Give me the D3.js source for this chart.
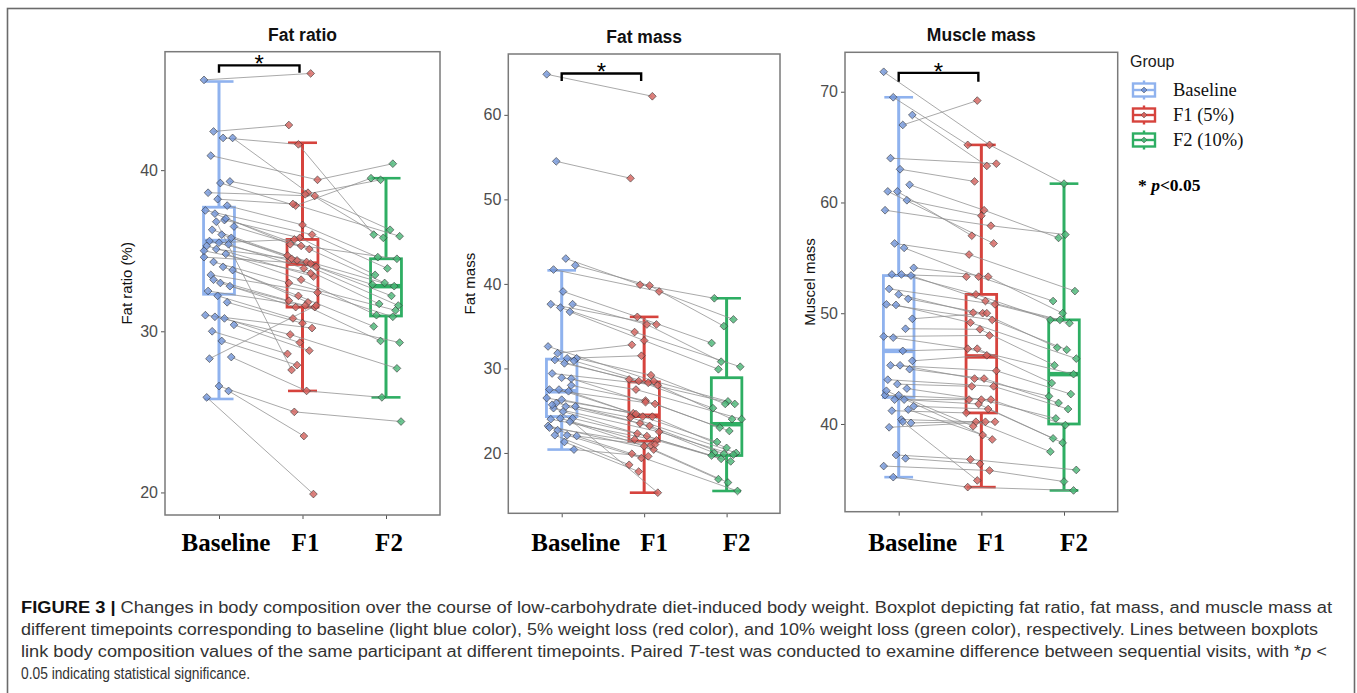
<!DOCTYPE html>
<html>
<head>
<meta charset="utf-8">
<script src="https://cdn.jsdelivr.net/npm/d3@7"></script>
<style>
  body { margin: 0; background: #fff; }
  svg { display: block; }
</style>
</head>
<body>
<div id="chart"></div>
<script>
// Groups (x categories) and legend labels
const groups = ["Baseline", "F1", "F2"];
const legendLabels = ["Baseline", "F1 (5%)", "F2 (10%)"];

// Fat ratio (%) per participant, null = visit not reached
const fatRatioBaseline = [45.6, 42.4, 42.0, 42.0, 40.9, 39.2, 39.3, 38.6, 38.2, 37.8, 37.5, 37.3, 36.9, 36.5, 36.3, 36.0, 35.8, 35.6, 35.5, 35.4, 35.3, 35.1, 34.8, 34.6, 34.3, 34.0, 33.8, 33.5, 33.0, 32.8, 32.5, 32.2, 31.8, 31.0, 30.9, 30.8, 30.4, 30.0, 29.4, 28.4, 28.3, 26.6, 26.3, 25.9, 36.8, 37.0, 35.0, 33.2];
const fatRatioF1 = [46.0, 42.8, 41.6, 38.6, 39.4, 37.8, 38.5, 38.4, 37.9, 36.6, 36.0, 35.4, 35.8, 35.1, 34.7, 34.4, 34.3, 34.0, 35.7, 33.9, 33.4, 34.5, 33.2, 34.2, 33.0, 32.2, 31.8, 32.4, 31.5, 31.6, 31.5, 30.8, 30.5, 30.2, 29.8, 29.3, 28.8, 28.6, 27.9, 26.3, 31.6, 25.0, 23.5, 19.9, 27.6, 35.3, 33.6, 31.9];
const fatRatioF2 = [null, null, 36.0, 35.8, 40.4, 39.5, 39.4, 36.3, 35.9, 34.6, 33.9, 34.5, 33.5, 33.0, 32.8, 32.9, null, 32.2, null, 31.7, null, 31.6, 31.0, null, 31.3, 30.3, null, 30.9, null, 29.4, null, 29.3, null, null, 27.7, null, null, null, null, 25.9, null, 24.4, null, null, null, null, null, null];
// Box statistics: [lower whisker, Q1, median, Q3, upper whisker]
const fatRatioBox = [[25.8, 32.3, 35.6, 37.7, 45.5], [26.3, 31.5, 34.2, 35.7, 41.7], [25.9, 30.95, 32.8, 34.5, 39.5]];
const fatRatioTicks = [20, 30, 40];

// Fat mass per participant
const fatMassBaseline = [64.8, 54.5, 43.0, 42.2, 41.7, 39.1, 37.6, 37.6, 37.2, 36.7, 32.6, 31.8, 31.2, 31.2, 31.0, 30.6, 30.9, 29.4, 28.9, 28.0, 27.5, 27.5, 27.3, 26.5, 25.9, 25.5, 25.5, 25.3, 24.9, 24.1, 24.0, 24.1, 23.7, 23.2, 22.7, 22.1, 22.0, 22.1, 21.3, 20.4, 25.7, 26.3, 28.8, 23.0];
const fatMassF1 = [62.2, 52.5, 39.9, 39.8, 39.1, 36.1, 35.2, 35.2, 34.3, 33.3, 28.5, 32.8, 31.5, 29.2, 28.7, 28.5, 28.3, 28.0, 27.5, 26.2, 25.8, 24.7, 24.3, 24.3, 24.2, 23.5, 23.2, 22.5, 22.3, 22.0, 21.5, 21.6, 20.8, 20.4, 19.9, 19.4, 20.9, 18.6, 17.8, 19.6, 15.3, 24.6, 26.0, 21.0];
const fatMassF2 = [null, null, 38.3, 35.0, 35.8, 33.0, 30.8, null, 30.2, 29.9, 26.1, null, null, 25.8, 25.8, 25.3, null, 24.0, 24.0, 23.0, 22.6, null, 21.3, 20.6, 20.0, 20.0, 19.9, 19.8, 19.7, 19.3, 19.0, null, 16.9, 16.5, 15.5, null, null, null, null, null, null, null, null, null];
const fatMassBox = [[20.4, 24.3, 27.3, 31.1, 41.6], [15.3, 21.4, 24.4, 28.4, 36.1], [15.5, 19.7, 23.4, 28.9, 38.3]];
const fatMassTicks = [20, 30, 40, 50, 60];

// Muscle mass per participant
const muscleBaseline = [71.8, 69.5, 67.0, 67.9, 64.0, 63.0, 61.6, 61.0, 61.0, 60.2, 59.3, 56.3, 55.9, 54.1, 53.5, 53.5, 53.4, 52.2, 51.7, 51.3, 50.8, 50.75, 48.6, 47.9, 47.8, 46.6, 45.7, 45.3, 45.3, 44.95, 44.0, 43.6, 43.2, 42.6, 42.2, 42.2, 41.6, 41.2, 40.4, 40.1, 39.7, 42.6, 41.3, 43.0, 37.2, 36.9, 36.2, 35.2, 40.2, 49.5];
const muscleF1 = [65.2, 65.2, 69.2, 63.3, 63.5, 61.9, 59.3, 56.3, 57.0, 58.8, 57.9, 55.3, 53.3, 53.3, 53.3, 51.7, 51.1, 50.8, 50.05, 50.0, 49.4, 49.15, 48.55, 48.0, 46.8, 46.8, 46.2, 44.8, 44.1, 44.1, 43.4, 43.4, 42.2, 42.2, 42.2, 41.8, 41.35, 41.0, 40.2, 40.2, 40.2, 39.8, 39.0, 38.6, 36.8, 36.4, 35.8, 34.3, 34.9, 50.0];
const muscleF2 = [61.7, null, null, null, null, null, 56.8, null, null, null, 57.1, 52.0, 51.1, 50.0, null, 49.4, 49.4, 49.1, null, 46.9, 46.7, 45.9, 45.3, null, 44.5, 43.7, null, 42.7, 42.5, 41.9, 41.35, null, 40.5, 39.9, null, 38.7, 38.3, null, 37.5, null, null, null, null, null, 35.85, null, 34.8, 34.0, null, null];
const muscleBox = [[35.2, 42.4, 46.6, 53.4, 69.5], [34.3, 41.0, 46.1, 51.7, 65.2], [34.0, 40.0, 44.5, 49.4, 61.7]];
const muscleTicks = [40, 50, 60, 70];

// Colours
const boxColors = ["#8fb2ee", "#d6433d", "#2eae63"];
const pointColors = ["#7295d8", "#d4625c", "#48b676"];

const W = 1357, H = 693;
const svg = d3.select("#chart").append("svg")
    .attr("width", W)
    .attr("height", H);

// outer figure frame
svg.append("rect")
    .attr("x", 7.5).attr("y", 8.5)
    .attr("width", 1347).attr("height", 700)
    .attr("fill", "none")
    .attr("stroke", "#6b6b6b")
    .attr("stroke-width", 1.6);

const panels = [
    { title: "Fat ratio", ylab: "Fat ratio (%)", ylabX: 127, left: 165, right: 440, top: 51.7, bottom: 515,
      pad: 54, domain: [18.6, 47.35], ticks: fatRatioTicks, box: fatRatioBox,
      series: [fatRatioBaseline, fatRatioF1, fatRatioF2], sig: [46.5, 46.05], labelShift: 3 },
    { title: "Fat mass", ylab: "Fat mass", ylabX: 470, left: 508.3, right: 780, top: 54, bottom: 513.3,
      pad: 53.4, domain: [12.86, 67.2], ticks: fatMassTicks, box: fatMassBox,
      series: [fatMassBaseline, fatMassF1, fatMassF2], sig: [64.9, 64.0], labelShift: 10 },
    { title: "Muscle mass", ylab: "Muscel mass", ylabX: 810, left: 845, right: 1117.7, top: 52.3, bottom: 511.7,
      pad: 53.7, domain: [32.08, 73.56], ticks: muscleTicks, box: muscleBox,
      series: [muscleBaseline, muscleF1, muscleF2], sig: [71.7, 70.9], labelShift: 10 }
];

// small fixed horizontal spread for points (pixel offsets, not data)
function jitter(i, g) {
    return ((((i * 53 + g * 17) % 23) / 22) - 0.5) * 30;
}

const diamond = d3.symbol().type(d3.symbolSquare).size(30);

panels.forEach((p) => {
    const g = svg.append("g");

    const x = d3.scalePoint()
        .domain(groups)
        .range([p.left + p.pad, p.right - p.pad]);
    const y = d3.scaleLinear()
        .domain(p.domain)
        .range([p.bottom, p.top]);
    const step = x.step();
    const boxW = step * 0.37;

    // title
    g.append("text")
        .attr("x", (p.left + p.right) / 2)
        .attr("y", p.top - 11)
        .attr("text-anchor", "middle")
        .style("font-family", "Liberation Sans, Arial, sans-serif")
        .style("font-weight", "bold")
        .style("font-size", "17.5px")
        .attr("fill", "#111")
        .text(p.title);

    // y axis
    const yAxis = g.append("g")
        .attr("transform", "translate(" + p.left + ",0)")
        .call(d3.axisLeft(y).tickValues(p.ticks).tickSize(4).tickPadding(3));
    yAxis.select(".domain").remove();
    yAxis.selectAll(".tick line").attr("stroke", "#555");
    yAxis.selectAll(".tick text")
        .attr("fill", "#4d4d4d")
        .style("font-family", "Liberation Sans, Arial, sans-serif")
        .style("font-size", "16px");

    // x axis ticks
    const xAxis = g.append("g")
        .attr("transform", "translate(0," + p.bottom + ")")
        .call(d3.axisBottom(x).tickSize(4).tickFormat(""));
    xAxis.select(".domain").remove();
    xAxis.selectAll(".tick line").attr("stroke", "#555");

    // x labels
    g.selectAll(".xlab")
        .data(groups)
        .enter().append("text")
        .attr("x", (d) => x(d) + (d === "Baseline" ? p.labelShift + 4 : p.labelShift))
        .attr("y", 551)
        .attr("text-anchor", "middle")
        .style("font-family", "Liberation Serif, 'Times New Roman', serif")
        .style("font-weight", "bold")
        .style("font-size", "25px")
        .attr("fill", "#000")
        .text((d) => d);

    // y label
    g.append("text")
        .attr("transform", "translate(" + p.ylabX + "," + ((p.top + p.bottom) / 2) + ") rotate(-90)")
        .attr("text-anchor", "middle")
        .attr("dy", "0.35em")
        .style("font-family", "Liberation Sans, Arial, sans-serif")
        .style("font-size", "15px")
        .attr("fill", "#111")
        .text(p.ylab);

    // boxplots
    p.box.forEach((b, gi) => {
        const cx = x(groups[gi]);
        const col = boxColors[gi];
        const bg = g.append("g").attr("stroke", col).attr("fill", "none");
        bg.append("line")
            .attr("x1", cx).attr("x2", cx)
            .attr("y1", y(b[0])).attr("y2", y(b[1]))
            .attr("stroke-width", 3);
        bg.append("line")
            .attr("x1", cx).attr("x2", cx)
            .attr("y1", y(b[3])).attr("y2", y(b[4]))
            .attr("stroke-width", 3);
        [b[0], b[4]].forEach((v) => {
            bg.append("line")
                .attr("x1", cx - boxW * 0.47).attr("x2", cx + boxW * 0.47)
                .attr("y1", y(v)).attr("y2", y(v))
                .attr("stroke-width", 2.6);
        });
        bg.append("rect")
            .attr("x", cx - boxW / 2).attr("width", boxW)
            .attr("y", y(b[3])).attr("height", y(b[1]) - y(b[3]))
            .attr("stroke-width", 2.8);
        bg.append("line")
            .attr("x1", cx - boxW / 2).attr("x2", cx + boxW / 2)
            .attr("y1", y(b[2])).attr("y2", y(b[2]))
            .attr("stroke-width", 4.5);
    });

    // participant lines
    const lines = g.append("g")
        .attr("stroke", "#8e8e8e")
        .attr("stroke-opacity", 0.85)
        .attr("stroke-width", 0.9);
    const n = p.series[0].length;
    for (let i = 0; i < n; i++) {
        for (let k = 0; k < 2; k++) {
            const a = p.series[k][i], c = p.series[k + 1][i];
            if (a == null || c == null) continue;
            lines.append("line")
                .attr("x1", x(groups[k]) + jitter(i, k))
                .attr("y1", y(a))
                .attr("x2", x(groups[k + 1]) + jitter(i, k + 1))
                .attr("y2", y(c));
        }
    }

    // points
    p.series.forEach((vals, gi) => {
        g.append("g").selectAll("path")
            .data(vals.map((v, i) => ({ v: v, i: i })).filter((d) => d.v != null))
            .enter().append("path")
            .attr("d", diamond)
            .attr("transform", (d) => "translate(" + (x(groups[gi]) + jitter(d.i, gi)) + "," + y(d.v) + ") rotate(45)")
            .attr("fill", pointColors[gi])
            .attr("fill-opacity", 0.8)
            .attr("stroke", "#333")
            .attr("stroke-opacity", 0.7)
            .attr("stroke-width", 0.8);
    });

    // significance bracket Baseline vs F1
    const bx0 = x(groups[0]), bx1 = x(groups[1]) - 3;
    g.append("path")
        .attr("d", "M" + bx0 + "," + y(p.sig[1]) + "V" + y(p.sig[0]) + "H" + bx1 + "V" + y(p.sig[1]))
        .attr("fill", "none")
        .attr("stroke", "#000")
        .attr("stroke-width", 2.4);
    g.append("text")
        .attr("x", (bx0 + bx1) / 2)
        .attr("y", y(p.sig[0]) + 7)
        .attr("text-anchor", "middle")
        .style("font-family", "Liberation Sans, Arial, sans-serif")
        .style("font-size", "24px")
        .attr("fill", "#000")
        .text("*");

    // panel frame
    g.append("rect")
        .attr("x", p.left).attr("y", p.top)
        .attr("width", p.right - p.left).attr("height", p.bottom - p.top)
        .attr("fill", "none")
        .attr("stroke", "#7a7a7a")
        .attr("stroke-width", 1.5);
});

// legend
const legend = svg.append("g");
legend.append("text")
    .attr("x", 1130).attr("y", 67)
    .style("font-family", "Liberation Sans, Arial, sans-serif")
    .style("font-size", "16px")
    .attr("fill", "#1a1a1a")
    .text("Group");

const items = legend.selectAll(".item")
    .data(legendLabels)
    .enter().append("g")
    .attr("transform", (d, i) => "translate(1144," + (90 + i * 25) + ")");
items.append("line")
    .attr("y1", -9.5).attr("y2", 9.5)
    .attr("stroke", (d, i) => boxColors[i])
    .attr("stroke-width", 2.4);
items.append("rect")
    .attr("x", -11).attr("y", -6.5).attr("width", 22).attr("height", 13)
    .attr("fill", "#fff")
    .attr("stroke", (d, i) => boxColors[i])
    .attr("stroke-width", 2.4);
items.append("line")
    .attr("x1", -11).attr("x2", 11)
    .attr("stroke", (d, i) => boxColors[i])
    .attr("stroke-width", 2.4);
items.append("path")
    .attr("d", d3.symbol().type(d3.symbolSquare).size(18))
    .attr("transform", "rotate(45)")
    .attr("fill", (d, i) => pointColors[i])
    .attr("stroke", "#3d3d3d")
    .attr("stroke-opacity", 0.6)
    .attr("stroke-width", 0.7);
items.append("text")
    .attr("x", 29).attr("y", 6)
    .style("font-family", "Liberation Serif, 'Times New Roman', serif")
    .style("font-size", "18.5px")
    .attr("fill", "#111")
    .text((d) => d);

const pnote = legend.append("text")
    .attr("x", 1138).attr("y", 191)
    .style("font-family", "Liberation Serif, 'Times New Roman', serif")
    .style("font-weight", "bold")
    .style("font-size", "17.5px")
    .attr("fill", "#000");
pnote.append("tspan").text("* ");
pnote.append("tspan").style("font-style", "italic").text("p");
pnote.append("tspan").text("<0.05");

// caption
const capFont = "'Liberation Sans', Arial, sans-serif";
const capLines = [
    { y: 613, w: 1311, parts: [["FIGURE 3 | ", "bold"], ["Changes in body composition over the course of low-carbohydrate diet-induced body weight. Boxplot depicting fat ratio, fat mass, and muscle mass at", ""]] },
    { y: 635, w: 1297, parts: [["different timepoints corresponding to baseline (light blue color), 5% weight loss (red color), and 10% weight loss (green color), respectively. Lines between boxplots", ""]] },
    { y: 657, w: 1306, parts: [["link body composition values of the same participant at different timepoints. Paired ", ""], ["T", "italic"], ["-test was conducted to examine difference between sequential visits, with *", ""], ["p", "italic"], [" <", ""]] },
    { y: 679, w: 229, parts: [["0.05 indicating statistical significance.", ""]] }
];
capLines.forEach((l) => {
    const t = svg.append("text")
        .attr("x", 21).attr("y", l.y)
        .attr("textLength", l.w)
        .attr("lengthAdjust", "spacingAndGlyphs")
        .style("font-family", capFont)
        .style("font-size", "16px")
        .attr("fill", "#333");
    l.parts.forEach((pt) => {
        const s = t.append("tspan").text(pt[0]);
        if (pt[1] === "bold") s.style("font-weight", "bold").attr("fill", "#111");
        if (pt[1] === "italic") s.style("font-style", "italic");
    });
});
</script>
</body>
</html>
